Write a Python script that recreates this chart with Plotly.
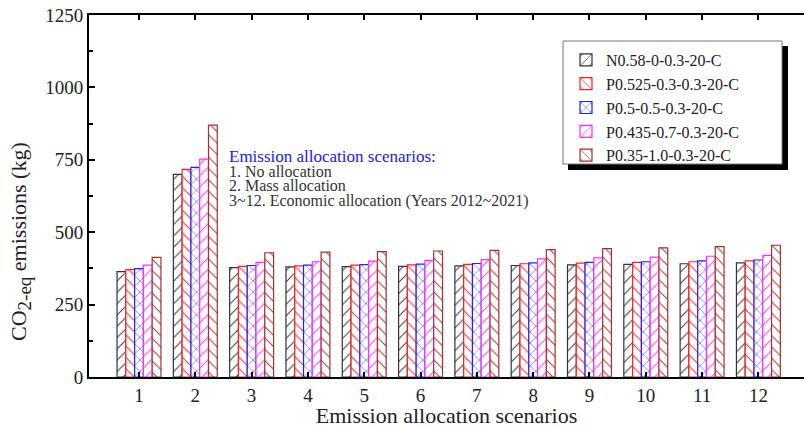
import plotly.graph_objects as go

categories = [1, 2, 3, 4, 5, 6, 7, 8, 9, 10, 11, 12]
tick_labels = [str(c) for c in categories]

series_names = [
    "N0.58-0-0.3-20-C",
    "P0.525-0.3-0.3-20-C",
    "P0.5-0.5-0.3-20-C",
    "P0.435-0.7-0.3-20-C",
    "P0.35-1.0-0.3-20-C",
]
s_n058 = [364, 700, 378, 380, 381, 382, 384, 385, 387, 389, 391, 394]
s_p0525 = [371, 717, 382, 384, 386, 387, 389, 391, 393, 396, 398, 401]
s_p05 = [374, 724, 385, 386, 388, 390, 392, 394, 396, 398, 401, 404]
s_p0435 = [386, 752, 396, 398, 400, 403, 405, 408, 411, 414, 417, 420]
s_p035 = [413, 870, 429, 431, 433, 435, 437, 440, 443, 446, 450, 455]
series_values = [s_n058, s_p0525, s_p05, s_p0435, s_p035]

note_title = "Emission allocation scenarios:"
note_lines = ["1. No allocation", "2. Mass allocation",
              "3~12. Economic allocation (Years 2012~2021)"]

colors = ["#333333", "#ff2020", "#2020ff", "#ff30ff", "#a03030"]
shapes_ = ["/", "\\", "x", "/", "\\"]

FONT = "Liberation Serif"
L, T, PW, PH = 89, 15, 715, 362


def px(x):
    return (x - L) / PW


def py(y):
    return 1 - (y - T) / PH


fig = go.Figure()
for name, vals, col, shp in zip(series_names, series_values, colors, shapes_):
    fig.add_trace(go.Bar(
        x=categories, y=vals, name=name,
        marker=dict(
            color="white",
            line=dict(color=col, width=1.2),
            pattern=dict(shape=shp, fgcolor=col, bgcolor="white",
                         fillmode="replace", size=8, solidity=0.12),
        ),
    ))

fig.update_layout(
    width=804, height=428,
    margin=dict(l=L, r=0, t=T, b=428 - T - PH),
    paper_bgcolor="white", plot_bgcolor="white",
    barmode="group", bargap=0.22, bargroupgap=0,
    font=dict(family=FONT, color="#222222"),
    showlegend=True,
    legend=dict(
        x=px(566), y=py(43), xanchor="left", yanchor="top",
        bgcolor="rgba(0,0,0,0)", borderwidth=0,
        font=dict(family=FONT, size=16, color="#222222"),
        tracegroupgap=0, itemwidth=30,
    ),
)

fig.update_xaxes(
    range=[0.112, 12.81],
    tickmode="array", tickvals=categories, ticktext=tick_labels,
    showline=True, linecolor="black", linewidth=2, mirror="ticks",
    ticks="inside", ticklen=5, tickwidth=2, tickcolor="black",
    showgrid=False, zeroline=False,
    tickfont=dict(family=FONT, size=19, color="#222222"),
    title=dict(text="Emission allocation scenarios", standoff=2,
               font=dict(family=FONT, size=22, color="#222222")),
)
fig.update_yaxes(
    range=[0, 1250],
    tickmode="linear", tick0=0, dtick=250,
    showline=True, linecolor="black", linewidth=2,
    ticks="inside", ticklen=6, tickwidth=2, tickcolor="black",
    minor=dict(ticks="inside", ticklen=4, tickwidth=1.5, tickcolor="black", dtick=125),
    showgrid=False, zeroline=False,
    tickfont=dict(family=FONT, size=19, color="#222222"),
)

# y-axis title as rotated annotation
fig.add_annotation(
    xref="paper", yref="paper", x=px(20), y=py(242), xanchor="center", yanchor="middle",
    textangle=-90, showarrow=False,
    text="CO<sub><span style='font-size:19px'>2-eq</span></sub> emissions (kg)",
    font=dict(family=FONT, size=22, color="#222222"),
)

# legend frame with shadow
fig.add_shape(type="rect", xref="paper", yref="paper",
              x0=px(568), x1=px(788), y0=py(170), y1=py(46),
              fillcolor="black", line=dict(width=0), layer="above")
fig.add_shape(type="rect", xref="paper", yref="paper",
              x0=px(563), x1=px(782), y0=py(164), y1=py(41),
              fillcolor="white", line=dict(color="#777777", width=1), layer="above")

# note text
fig.add_annotation(
    xref="paper", yref="paper", x=px(227), y=py(156), xanchor="left", yanchor="middle",
    showarrow=False, text=note_title,
    font=dict(family=FONT, size=17, color="#2020ee"),
)
for i, line in enumerate(note_lines):
    fig.add_annotation(
        xref="paper", yref="paper", x=px(227), y=py(171 + 15 * i), xanchor="left",
        yanchor="middle", showarrow=False, text=line,
        font=dict(family=FONT, size=16, color="#333333"),
    )

fig.write_html("out.html")
